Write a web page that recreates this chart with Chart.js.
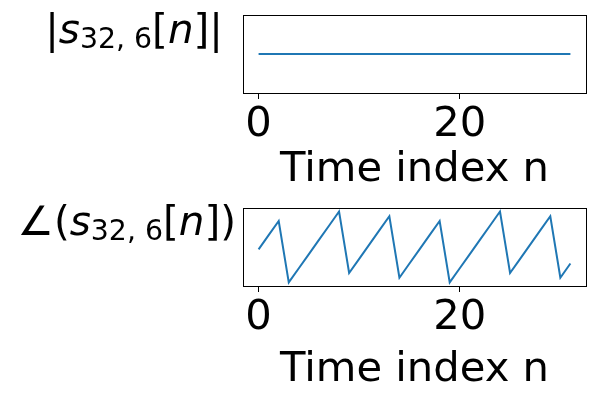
<!DOCTYPE html>
<html>
<head>
<meta charset="utf-8">
<script src="https://cdn.jsdelivr.net/npm/chart.js@4"></script>
<style>
  body { margin: 0; background: #fff; }
  canvas { display: block; }
</style>
</head>
<body>
<canvas id="magChart" width="600" height="200"></canvas>
<canvas id="phaseChart" width="600" height="200"></canvas>
<script>
// Data
const timeIndex = [0, 1, 2, 3, 4, 5, 6, 7, 8, 9, 10, 11, 12, 13, 14, 15,
                   16, 17, 18, 19, 20, 21, 22, 23, 24, 25, 26, 27, 28, 29, 30, 31];
const magnitude = [1, 1, 1, 1, 1, 1, 1, 1, 1, 1, 1, 1, 1, 1, 1, 1,
                   1, 1, 1, 1, 1, 1, 1, 1, 1, 1, 1, 1, 1, 1, 1, 1];
// phase in radians
const phase = [0, 1.178, 2.356, -2.749, -1.571, -0.393, 0.785, 1.963,
               3.142, -1.963, -0.785, 0.393, 1.571, 2.749, -2.356, -1.178,
               0, 1.178, 2.356, -2.749, -1.571, -0.393, 0.785, 1.963,
               3.142, -1.963, -0.785, 0.393, 1.571, 2.749, -2.356, -1.178];
const xTicks = [0, 20];
const xLabel = 'Time index n';

const FONT = '"DejaVu Sans", sans-serif';
const FS = 41.7;
const LFS = 40.5;

// label pieces: [text, italic, sub]
const magLabel = [['|', 0, 0], ['s', 1, 0], ['32, 6', 0, 1], ['[', 0, 0], ['n', 1, 0], [']', 0, 0], ['|', 0, 0]];
const phaseLabel = [['\u2220', 0, 0], ['(', 0, 0], ['s', 1, 0], ['32, 6', 0, 1], ['[', 0, 0], ['n', 1, 0], [']', 0, 0], [')', 0, 0]];

// draws the full box and the math-style y label
const frameAndLabel = {
    id: 'frameAndLabel',
    afterDraw(chart, args, opts) {
        const ctx = chart.ctx;
        const a = chart.chartArea;
        ctx.save();
        ctx.strokeStyle = '#000';
        ctx.lineWidth = 1;
        ctx.strokeRect(Math.round(a.left) + 0.5, Math.round(a.top) + 0.5,
            Math.round(a.right - a.left), Math.round(a.bottom - a.top));

        const fontOf = p => (p[1] ? 'italic ' : '') + (p[2] ? LFS * 0.7 : LFS) + 'px ' + FONT;
        let total = 0;
        opts.pieces.forEach(p => { ctx.font = fontOf(p); total += ctx.measureText(p[0]).width; });
        let x = opts.right - total;
        ctx.fillStyle = '#000';
        ctx.textBaseline = 'alphabetic';
        ctx.textAlign = 'left';
        opts.pieces.forEach(p => {
            ctx.font = fontOf(p);
            ctx.fillText(p[0], x, opts.baseline + (p[2] ? 5 : 0));
            x += ctx.measureText(p[0]).width;
        });
        ctx.restore();
    }
};

function makeChart(id, values, yMin, yMax, padTop, axisHeight, pieces, right, baseline) {
    return new Chart(document.getElementById(id), {
        type: 'line',
        data: {
            labels: timeIndex,
            datasets: [{
                data: timeIndex.map((t, i) => ({ x: t, y: values[i] })),
                borderColor: '#1f77b4',
                borderWidth: 2,
                pointRadius: 0,
                tension: 0
            }]
        },
        options: {
            responsive: false,
            animation: false,
            layout: { padding: { left: 243, right: 14, top: padTop, bottom: 0 } },
            plugins: {
                legend: { display: false },
                tooltip: { enabled: false },
                frameAndLabel: { pieces: pieces, right: right, baseline: baseline }
            },
            scales: {
                x: {
                    type: 'linear',
                    min: -1.55,
                    max: 32.55,
                    afterBuildTicks: s => { s.ticks = xTicks.map(v => ({ value: v })); },
                    afterFit: s => { s.height = axisHeight; },
                    border: { display: false },
                    grid: { drawOnChartArea: false, tickLength: 6, color: '#000' },
                    ticks: { color: '#000', padding: 1, maxRotation: 0, font: { family: FONT, size: FS } },
                    title: {
                        display: true, text: xLabel, color: '#000',
                        font: { family: FONT, size: FS, lineHeight: 1 },
                        padding: { top: 0, bottom: 9 }
                    }
                },
                y: { display: false, min: yMin, max: yMax }
            }
        },
        plugins: [frameAndLabel]
    });
}

makeChart('magChart', magnitude, 0.95, 1.05, 15, 107, magLabel, 223, 43);
makeChart('phaseChart', phase, -3.044, 3.436, 8, 114, phaseLabel, 236, 35);
</script>
</body>
</html>
